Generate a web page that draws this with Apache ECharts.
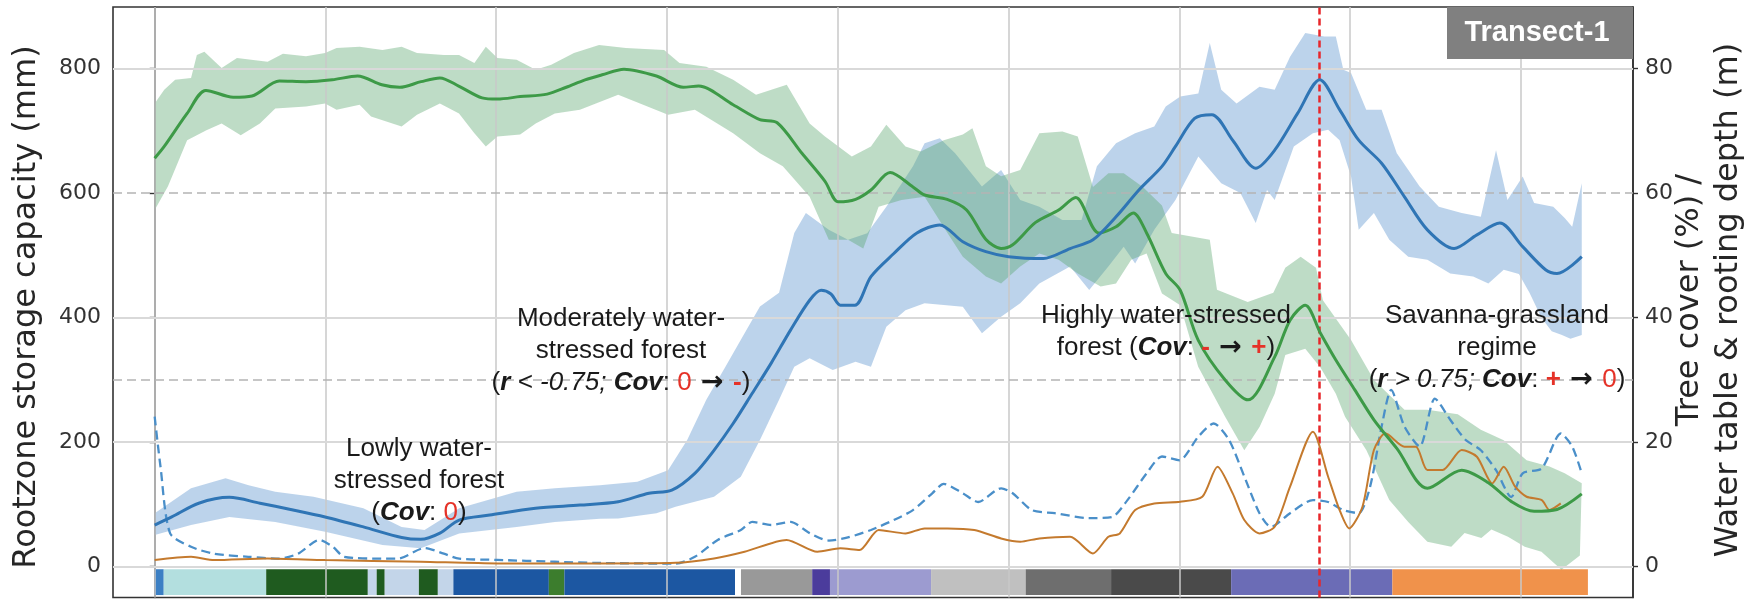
<!DOCTYPE html>
<html>
<head>
<meta charset="utf-8">
<title>Transect-1</title>
<script src="https://cdn.jsdelivr.net/npm/echarts@6/dist/echarts.min.js"></script>
<style>
  html, body { margin: 0; padding: 0; background: #ffffff; }
  #chart { width: 1758px; height: 600px; }
</style>
</head>
<body>
<div id="chart"></div>
<script>
// ---- Distance along the transect (one grid step = 100) ----
const distanceGuides = [0, 100, 200, 300, 400, 500, 600, 700, 800];
const rootzoneTicks = [0, 200, 400, 600, 800];          // mm
const coverTicks = [0, 20, 40, 60, 80];                  // % / m
const thresholdLines = [300, 600];                       // dashed guides (mm scale)
const shiftPosition = 682;                               // regime shift marker

// ---- Tree cover (%): mean and spread ----
const treeCoverMean = [[0,65.6],[5.6,67.5],[19,72.8],[30,76.5],[46,75.4],[57,75.6],[73,78.0],[88.6,77.9],[104,78.2],[118.8,78.8],[133,77.4],[143.5,77.0],[156,77.9],[167,78.5],[178,77.2],[191.7,75.3],[200.7,75.1],[214,75.5],[229.8,75.9],[241,77.0],[252,78.2],[262,79.0],[274.8,79.9],[293.8,78.8],[309.5,77.0],[318.5,77.2],[338.7,74.2],[354.4,71.8],[364.5,71.3],[379,66.4],[392.5,61.9],[400.3,58.6],[410.4,59.0],[419.4,60.5],[430.6,63.3],[444,61.0],[450.8,59.7],[464,59.0],[475.4,57.3],[486.6,52.6],[495.6,51.1],[502.4,51.7],[515.8,55.3],[529.3,57.3],[539.3,59.3],[552.8,53.6],[562.9,54.6],[573,56.8],[580.8,53.6],[592,47.1],[600.5,44.4],[611,36.4],[626.8,30.0],[640.2,26.8],[655.8,33.7],[664.8,39.6],[673.7,42.0],[682.6,37.5],[691.6,33.2],[702.7,28.4],[713.9,23.6],[727.3,19.0],[745.2,12.6],[765.3,15.5],[780.9,13.5],[794.3,10.5],[807.7,8.9],[821.1,9.2],[835.6,11.7]];
const treeCoverUpper = [[0,74.4],[5.6,76.6],[12,78.2],[21.3,78.5],[24.7,82.2],[29.1,82.7],[39.2,80.1],[48.2,81.7],[66.1,81.1],[75.1,82.4],[88.6,82.0],[99.8,82.5],[106.5,83.3],[120,83.5],[133.4,83.0],[144.6,83.5],[153.6,82.5],[169.3,82.2],[178.2,82.2],[187.2,80.9],[193.9,83.5],[200.7,81.7],[211.9,81.4],[223.1,79.8],[232.2,80.6],[245.5,82.5],[260.2,83.8],[275.9,83.3],[298.3,83.0],[307.3,80.9],[323,80.3],[338.7,78.2],[352.1,75.8],[370.1,77.4],[383.5,71.2],[392.5,69.1],[408.2,65.9],[419.4,67.5],[428.4,71.0],[439.6,67.5],[448.5,66.7],[462,68.5],[473.2,69.4],[478.8,70.4],[486.7,64.3],[495.6,62.7],[506.8,63.7],[518,69.6],[531.5,69.9],[540.5,69.1],[549.4,61.0],[558.4,63.2],[567.4,63.2],[578.6,61.0],[589.8,58.0],[595.5,53.6],[617.8,52.5],[622,44.5],[640,42.5],[655,44.0],[662,48.0],[671,49.8],[680,48.0],[684,42.8],[700.5,36.4],[713.9,30.0],[731.8,25.2],[745.2,25.2],[763,24.5],[776.5,22.0],[789.9,20.3],[803.3,17.1],[816.7,16.1],[825.6,15.0],[835.6,13.4]];
const treeCoverLower = [[0,57.3],[7.8,61.1],[19,68.5],[30.3,70.1],[39.2,71.2],[50.4,69.3],[61.6,71.2],[70.6,73.6],[88.6,73.9],[99.8,74.4],[106.5,73.4],[120,74.2],[126.7,72.3],[144.6,70.7],[153.6,72.6],[167,74.4],[178.2,72.8],[187.2,69.6],[193.9,67.5],[200.7,69.1],[214,69.4],[223.1,71.2],[234.3,72.8],[249,73.4],[271.4,75.8],[300.6,72.6],[316.3,73.4],[338.7,69.6],[354.4,66.4],[367.8,64.3],[383.5,59.4],[394.7,52.5],[406,52.5],[414.9,51.1],[423.9,57.8],[437.3,58.9],[450.8,59.4],[464.2,53.6],[473.2,49.8],[486.7,46.6],[495.6,45.5],[506.8,48.2],[518,50.3],[529.3,49.3],[540.5,47.1],[553.9,45.0],[562.9,45.5],[571.8,49.3],[580.8,50.3],[589.8,43.9],[600.5,42.0],[611,32.1],[626.8,24.1],[638,18.7],[647,22.5],[655.8,27.8],[662,34.0],[673.7,35.0],[682.6,32.0],[691.6,27.8],[697,24.1],[709.5,18.7],[722.9,10.7],[734,7.2],[745.2,4.0],[759.2,3.2],[767,5.4],[776.8,4.6],[782.7,6.0],[792.4,4.8],[802.2,3.2],[812,2.4],[823.7,-0.5],[834.5,1.8]];

// ---- Rootzone storage capacity (mm): mean and spread ----
const rootzoneMean = [[0,67],[10,80],[25.8,102],[43.7,111.4],[61.7,102],[79.6,92],[99.8,80],[122.2,64],[144.6,47],[155.8,44],[167,54],[178.3,75],[196.2,83],[223,94],[249,99],[271.4,104.4],[289.4,118],[302.8,123],[316.3,150],[327.5,187],[338.7,230],[349.9,278.5],[361,327],[372.3,380],[383.5,428],[390.2,444],[396,438],[401.5,420],[410,420],[419.4,466],[432.8,503],[446.3,536],[459.7,549],[473.2,522],[486.7,506],[500,498],[520.3,495],[536,511],[549.4,525],[562.9,562],[576.3,605],[589.8,643],[597.7,675],[608.9,720],[619,726],[631.2,685],[644.7,640],[655.8,669],[669.2,728],[682.2,782],[693.8,734],[705,685],[718.4,648],[731.8,594],[745.2,541],[760.8,511],[774.2,533],[787.6,552],[801,514],[814.4,477],[821.1,471],[835.6,498]];
const rootzoneUpper = [[0,85.7],[21.3,126],[41.5,142],[55,131],[70.6,120.5],[93,112.5],[122.2,94],[144.6,64],[158,59],[178.3,94],[211.9,120.5],[234.3,126],[260.7,131],[282.6,136.5],[300.6,155],[311.8,203.5],[323,268],[334.2,321],[345.4,375],[354.4,418],[365.6,440],[374.5,536],[381.3,568],[394.7,541],[406,525],[417.2,535.5],[428.4,578],[444,643],[450.8,680],[459.7,688],[468.7,664],[484.4,610.5],[495.6,637],[506.8,589],[518,578],[531.5,557],[542.7,557],[551.7,643],[562.9,680],[574.1,696],[585.3,707],[592,739],[600.5,755],[611.1,760],[617.8,841],[624.5,766],[633.5,744],[646.9,771],[655.8,766],[664.8,819],[673.7,857],[684.9,851.5],[691.6,851.5],[696,798],[700.5,793],[709.4,734],[718.4,734],[727.3,664],[740.7,610.5],[751.9,578],[765.3,568],[776.5,562],[785.4,669],[792.1,589],[801,626.6],[807.7,584],[818.9,578],[825.6,560],[830,546],[835.6,616]];
const rootzoneLower = [[0,51],[21.3,67],[43.7,80],[70.6,72],[99.8,56],[133.4,35],[155.8,29.5],[178.3,53.5],[211.9,64],[234.3,72],[260.7,77],[271.4,77.6],[293.8,85.7],[305,96.4],[327.5,112.5],[343.2,144.6],[354.4,203.5],[365.6,268],[374.5,321.3],[383.5,334.7],[397,316],[410.4,329.3],[419.4,321.3],[428.4,385.6],[439.6,412],[450.8,423],[473.2,417.7],[484.4,374.9],[495.6,401.6],[506.8,423],[518,455],[536,482],[547.2,444.5],[558.4,482],[567.4,514],[574.1,487],[585.3,541],[597.7,589],[611.1,659],[624.5,616],[635.7,600],[644.7,552],[651.3,605],[655.8,589],[667,675],[678.2,696],[687.1,701.6],[693.8,685],[700.5,626.6],[705,541],[713.9,568],[722.9,525],[734,498],[745.2,493],[758.6,471],[772,466],[780.9,455],[789.9,477],[798.8,470],[805,440],[812,400],[818,378],[824,372],[829,366],[835.6,372]];

// ---- Water table depth (m) ----
const waterTable = [[0,24.1],[3.4,16.1],[9,5.4],[21.3,3.2],[34.8,2.1],[54.9,1.6],[72.9,1.3],[84,2.1],[96.4,4.3],[104.3,3.2],[111,1.6],[133.4,1.3],[142.4,1.3],[158,3.0],[169.3,2.1],[178.3,1.3],[200.7,1.1],[234.3,0.8],[260.7,0.6],[305,0.5],[316.3,1.6],[329.7,4.3],[343.2,5.9],[349.9,7.2],[361,6.7],[372.3,7.2],[383.5,5.4],[394.7,4.2],[405.9,4.7],[419.4,5.9],[432.8,7.5],[444,9.1],[455.3,11.8],[462,13.3],[473.2,11.8],[482.2,10.4],[495.6,12.6],[502.4,11.8],[513.6,9.1],[527,8.6],[547.2,7.8],[560.6,8.0],[569.6,10.7],[580.8,15.0],[589.8,17.7],[600,17.1],[611.1,20.9],[620.1,23.0],[629,20.4],[638,14.5],[646.9,8.6],[653.6,6.4],[664.8,8.6],[678.2,10.7],[687.1,10.4],[696,9.1],[705,8.6],[711.7,12.9],[718.4,22.5],[724,28.4],[731.8,22.5],[740.7,19.3],[749.6,27.0],[758.6,23.6],[767.5,20.4],[776.5,18.7],[785.4,15.5],[794.3,11.2],[801,15.0],[812.2,15.8],[823.3,21.4],[830,19.3],[835.6,15.0]];

// ---- Rooting depth (m) ----
const rootingDepth = [[0,1.07],[21.3,1.6],[34.8,1.07],[66.1,1.34],[99.8,1.07],[155.8,0.8],[200.7,0.54],[260.7,0.54],[305,0.64],[327.5,1.34],[345.4,2.4],[370,4.3],[388,2.4],[401.5,2.95],[412.7,2.68],[423.9,5.9],[439.6,5.35],[450.8,6.16],[464.2,6.16],[479.9,5.9],[495.6,4.55],[506.8,4.02],[518,4.55],[536,4.82],[549.4,2.14],[558.4,4.82],[565.1,5.35],[574.1,9.1],[585.3,10.17],[600.5,10.44],[613.4,11.24],[622.3,16.07],[631.2,11.78],[638,7.5],[646.9,5.35],[655.8,6.43],[664.8,12.85],[678.2,21.69],[687.1,14.46],[693.8,9.1],[699.4,6.16],[707.2,9.64],[713.9,18.74],[720.6,21.42],[731.8,19.28],[738.5,19.28],[745.2,15.53],[754.1,15.53],[765.3,18.74],[774.2,17.67],[783.2,13.38],[789.9,16.07],[796.6,12.85],[803.3,11.24],[812.2,10.7],[816.7,9.1],[823.3,10.17]];

// ---- Land-cover strip along the transect ----
const landCoverBreaks = [0, 5.3, 65.3, 124.8, 130, 134.7, 154.7, 165.8, 174.9, 230.8, 239.9, 339.8, 343.3, 385, 395.4, 454.6, 510, 560, 630.3, 724.7, 839.2];
const landCoverColors = ['#3b7fc4', '#b3dfdf', '#1f5b1f', '#c3d5e9', '#1f5b1f', '#c3d5e9', '#1f5b1f', '#c3d5e9', '#1c57a2', '#3c7d2d', '#1c57a2', '#ffffff', '#999999', '#4b3c9c', '#9c9bd0', '#c0c0c0', '#6e6e6e', '#4a4a4a', '#6b6cb6', '#f0924b'];

// ---- Axis extents ----
const xExtent = [-24.4, 865.6];
const rootzoneExtent = [-49.4, 898.9];
const coverExtent = [-4.94, 89.89];
const stripTop = -4, stripBottom = -45.5;

const TICK_FONT = 'DejaVu Sans';
const NOTE_FONT = 'Liberation Sans';
const INK = '#1a1a1a';
const RED = '#e53228';

function bandSeries(name, upper, lower, yAxisIndex, fill, z) {
  return {
    type: 'custom', name, yAxisIndex, z, silent: true,
    data: [[0, 0]],
    renderItem(params, api) {
      const pts = upper.map(p => api.coord(p))
        .concat(lower.slice().reverse().map(p => api.coord(p)));
      return { type: 'polygon', shape: { points: pts }, style: { fill } };
    }
  };
}

const guideLines = distanceGuides.map(v => ({
  xAxis: v, lineStyle: { color: 'rgba(200,200,200,0.75)', width: 2, type: 'solid' }
})).concat(rootzoneTicks.filter(v => thresholdLines.indexOf(v) < 0).map(v => ({
  yAxis: v, lineStyle: { color: '#d9d9d9', width: 2, type: 'solid' }
}))).concat(thresholdLines.map(v => ({
  yAxis: v, lineStyle: { color: '#b4b4b4', width: 1.6, type: [9, 5] }
})));

// rich-text token styles for the regime notes
function tok(extra) {
  return Object.assign({ fontFamily: NOTE_FONT, fontSize: 26, lineHeight: 32, fill: INK, color: INK }, extra);
}
const noteRich = {
  n:    tok({}),
  bi:   tok({ fontWeight: 'bold', fontStyle: 'italic' }),
  it:   tok({ fontStyle: 'italic' }),
  red:  tok({ fill: RED, color: RED }),
  redb: tok({ fill: RED, color: RED, fontWeight: 'bold' }),
  ar:   tok({ fontFamily: 'DejaVu Sans', fontSize: 27, fontWeight: 'bold' })
};

function note(x, y, text) {
  return {
    type: 'text', x, y, z: 50, silent: true,
    style: { text, rich: noteRich, align: 'center', verticalAlign: 'middle',
             textAlign: 'center', textVerticalAlign: 'middle',
             fontFamily: NOTE_FONT, fontSize: 26, fill: INK }
  };
}

const chart = echarts.init(document.getElementById('chart'), null, { renderer: 'canvas' });

const option = {
  animation: false,
  backgroundColor: '#ffffff',
  grid: { left: 113, right: 125, top: 7, bottom: 2.5, show: true,
          borderColor: '#333333', borderWidth: 1.6, backgroundColor: 'transparent' },
  xAxis: {
    type: 'value', min: xExtent[0], max: xExtent[1],
    axisLine: { show: false }, axisTick: { show: false },
    axisLabel: { show: false }, splitLine: { show: false }
  },
  yAxis: [
    {
      type: 'value', position: 'left', min: rootzoneExtent[0], max: rootzoneExtent[1],
      axisLine: { show: true, lineStyle: { color: '#333333', width: 1.6 } },
      axisTick: { show: true, length: 5, customValues: rootzoneTicks, lineStyle: { color: '#333333', width: 1.4 } },
      axisLabel: { show: true, customValues: rootzoneTicks, margin: 12,
                   fontFamily: TICK_FONT, fontSize: 22, color: '#333333' },
      splitLine: { show: false }
    },
    {
      type: 'value', position: 'right', min: coverExtent[0], max: coverExtent[1],
      axisLine: { show: true, lineStyle: { color: '#333333', width: 1.6 } },
      axisTick: { show: true, length: 5, customValues: coverTicks, lineStyle: { color: '#333333', width: 1.4 } },
      axisLabel: { show: true, customValues: coverTicks, margin: 12,
                   fontFamily: TICK_FONT, fontSize: 22, color: '#333333' },
      splitLine: { show: false }
    }
  ],
  series: [
    // land-cover strip
    {
      type: 'custom', name: 'Land cover', yAxisIndex: 0, z: 1, silent: true,
      data: landCoverColors.map((c, i) => [landCoverBreaks[i], landCoverBreaks[i + 1], i]),
      encode: { x: [0, 1] },
      renderItem(params, api) {
        const p0 = api.coord([api.value(0), stripTop]);
        const p1 = api.coord([api.value(1), stripBottom]);
        return { type: 'rect',
                 shape: { x: p0[0], y: p0[1], width: p1[0] - p0[0], height: p1[1] - p0[1] },
                 style: { fill: landCoverColors[api.value(2)] } };
      }
    },
    // guide lines
    {
      type: 'line', name: 'guides', yAxisIndex: 0, z: 2, data: [], silent: true,
      markLine: { silent: true, symbol: ['none', 'none'], label: { show: false },
                  animation: false, data: guideLines }
    },
    bandSeries('Rootzone spread', rootzoneUpper, rootzoneLower, 0, 'rgba(96,150,208,0.42)', 3),
    bandSeries('Tree cover spread', treeCoverUpper, treeCoverLower, 1, 'rgba(84,164,106,0.38)', 3),
    {
      type: 'line', name: 'Water table', yAxisIndex: 1, z: 5, data: waterTable,
      showSymbol: false, smooth: 0.25, silent: true,
      lineStyle: { color: '#4a8fc9', width: 2.3, type: [9, 5] }
    },
    {
      type: 'line', name: 'Rooting depth', yAxisIndex: 1, z: 5, data: rootingDepth,
      showSymbol: false, smooth: 0.25, silent: true,
      lineStyle: { color: '#c47a2e', width: 2 }
    },
    {
      type: 'line', name: 'Tree cover', yAxisIndex: 1, z: 6, data: treeCoverMean,
      showSymbol: false, smooth: 0.3, silent: true,
      lineStyle: { color: '#3d9a47', width: 3 }
    },
    {
      type: 'line', name: 'Rootzone storage capacity', yAxisIndex: 0, z: 6, data: rootzoneMean,
      showSymbol: false, smooth: 0.3, silent: true,
      lineStyle: { color: '#2f75b5', width: 3 },
      markLine: { silent: true, symbol: ['none', 'none'], label: { show: false }, animation: false,
                  data: [{ xAxis: shiftPosition, lineStyle: { color: '#e8262a', width: 2.5, type: [7, 4] } }] }
    }
  ],
  graphic: [
    { type: 'rect', shape: { x: 1447, y: 7, width: 186, height: 52 }, style: { fill: '#808080' }, z: 40, silent: true },
    { type: 'text', x: 1537, y: 33, z: 41, silent: true,
      style: { text: 'Transect-1', fill: '#ffffff', fontFamily: NOTE_FONT, fontSize: 29, fontWeight: 'bold',
               align: 'center', verticalAlign: 'middle', textAlign: 'center', textVerticalAlign: 'middle' } },
    { type: 'text', x: 27, y: 307, rotation: Math.PI / 2, z: 40, silent: true,
      style: { text: 'Rootzone storage capacity (mm)', fill: '#262626', fontFamily: TICK_FONT, fontSize: 32,
               align: 'center', verticalAlign: 'middle', textAlign: 'center', textVerticalAlign: 'middle' } },
    { type: 'text', x: 1709, y: 300, rotation: Math.PI / 2, z: 40, silent: true,
      style: { text: 'Tree cover (%) /\nWater table & rooting depth (m)', fill: '#262626', fontFamily: TICK_FONT,
               fontSize: 32, lineHeight: 39,
               align: 'center', verticalAlign: 'middle', textAlign: 'center', textVerticalAlign: 'middle' } },
    note(419, 481, '{n|Lowly water-}\n{n|stressed forest}\n{n|(}{bi|Cov}{n|: }{red|0}{n|)}'),
    note(621, 351, '{n|Moderately water-}\n{n|stressed forest}\n{n|(}{bi|r}{it| < -0.75; }{bi|Cov}{n|: }{red|0}{ar| → }{redb|-}{n|)}'),
    note(1166, 332, '{n|Highly water-stressed}\n{n|forest (}{bi|Cov}{n|: }{redb|-}{ar| → }{redb|+}{n|)}'),
    note(1497, 348, '{n|Savanna-grassland}\n{n|regime}\n{n|(}{bi|r}{it| > 0.75; }{bi|Cov}{n|: }{redb|+}{ar| → }{red|0}{n|)}')
  ]
};

chart.setOption(option);
</script>
</body>
</html>
